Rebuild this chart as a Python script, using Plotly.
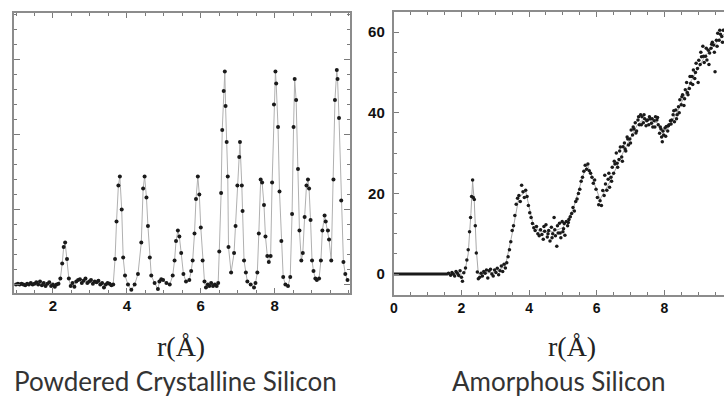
import plotly.graph_objects as go

# ---------------- Powdered crystalline silicon (left) ----------------
r_cryst = [1.00, 1.05, 1.10, 1.15, 1.20, 1.25, 1.30, 1.35, 1.40, 1.45,
           1.50, 1.55, 1.60, 1.65, 1.70, 1.75, 1.80, 1.85, 1.90, 1.95,
           2.00, 2.05, 2.10, 2.15, 2.20, 2.25, 2.29, 2.33, 2.38, 2.43,
           2.48, 2.53, 2.58, 2.63, 2.68, 2.73, 2.78, 2.83, 2.88, 2.93,
           2.98, 3.03, 3.08, 3.13, 3.18, 3.23, 3.28, 3.33, 3.38, 3.43,
           3.48, 3.53, 3.58, 3.63, 3.68, 3.72, 3.77, 3.81, 3.86, 3.90,
           3.95, 4.03, 4.12, 4.21, 4.30, 4.39, 4.44, 4.48, 4.53, 4.57,
           4.62, 4.66, 4.75, 4.84, 4.88, 4.93, 4.98, 5.07, 5.16, 5.24,
           5.29, 5.33, 5.38, 5.42, 5.47, 5.53, 5.60, 5.69, 5.74, 5.78,
           5.83, 5.87, 5.92, 5.96, 6.00, 6.05, 6.10, 6.14, 6.19, 6.23,
           6.28, 6.33, 6.38, 6.43, 6.47, 6.50, 6.55, 6.58, 6.62, 6.65,
           6.67, 6.70, 6.73, 6.75, 6.82, 6.90, 6.94, 6.99, 7.04, 7.06,
           7.11, 7.13, 7.17, 7.22, 7.26, 7.35, 7.44, 7.48, 7.53, 7.57,
           7.62, 7.66, 7.71, 7.75, 7.80, 7.84, 7.89, 7.93, 7.98, 8.02,
           8.04, 8.09, 8.13, 8.18, 8.23, 8.29, 8.36, 8.42, 8.47, 8.51,
           8.54, 8.58, 8.63, 8.67, 8.72, 8.76, 8.81, 8.86, 8.90, 8.93,
           8.97, 9.01, 9.05, 9.10, 9.14, 9.20, 9.25, 9.29, 9.35, 9.38,
           9.44, 9.47, 9.53, 9.59, 9.63, 9.68, 9.70, 9.74, 9.80, 9.86,
           9.91, 9.97]
g_cryst = [0.00, 0.05, 0.00, 0.05, 0.00, -0.05, 0.05, 0.00, 0.10, 0.00,
           0.05, 0.15, 0.00, 0.20, -0.05, 0.10, -0.10, 0.05, 0.15, -0.10,
           0.00, -0.15, 0.00, 0.05, 0.40, 1.40, 2.50, 2.80, 1.70, 0.40,
           -0.10, 0.10, -0.15, 0.20, 0.30, 0.35, 0.10, 0.25, 0.40, 0.10,
           0.20, 0.30, 0.05, 0.20, 0.15, 0.25, 0.00, 0.10, -0.20, 0.00,
           0.10, 0.05, -0.05, 0.00, 1.70, 4.20, 6.60, 7.20, 5.00, 1.80,
           0.60, 0.00, -0.35, 0.00, 0.70, 2.80, 6.40, 7.20, 5.80, 3.90,
           1.80, 0.60, 0.10, -0.30, 0.20, 0.35, 0.30, 0.10, 0.00, 0.60,
           1.60, 2.90, 3.60, 3.20, 2.10, 0.70, 0.20, 0.30, 0.90, 1.60,
           3.40, 5.70, 7.20, 6.00, 3.80, 1.60, 0.20, -0.20, 0.00, -0.10,
           0.10, -0.10, 0.00, -0.10, 0.10, 2.20, 6.10, 10.30, 12.90, 14.20,
           11.90, 9.50, 7.20, 2.50, 0.80, 2.10, 3.90, 6.60, 8.50, 9.50,
           6.60, 4.90, 1.60, 0.80, 0.20, 0.00, -0.20, 0.10, 0.80, 3.40,
           7.00, 6.80, 5.30, 3.20, 1.90, 1.50, 1.90, 6.80, 12.00, 14.20,
           13.40, 10.50, 6.20, 2.90, 0.50, 0.00, -0.10, 0.50, 4.70, 10.50,
           13.70, 12.30, 7.70, 3.60, 1.60, 2.10, 4.50, 6.60, 7.00, 6.40,
           4.30, 1.60, 0.90, 0.40, 0.30, 0.40, 1.60, 3.60, 4.60, 4.20,
           3.60, 3.00, 1.60, 7.00, 12.30, 14.30, 13.70, 11.10, 5.60, 1.50,
           0.70, 0.30]

# ---------------- Amorphous silicon (right) ----------------
r_amor_base = [0.0, 1.60]
g_amor_base = [0.0, 0.0]

r_amor = [1.62, 1.68, 1.72, 1.76, 1.80, 1.84, 1.88, 1.92, 1.96, 2.00,
          2.03, 2.07, 2.12, 2.16, 2.20, 2.24, 2.27, 2.30, 2.33, 2.35,
          2.38, 2.41, 2.44, 2.47, 2.50, 2.54, 2.58, 2.62, 2.66, 2.70,
          2.74, 2.78, 2.82, 2.86, 2.90, 2.94, 2.98, 3.02, 3.06, 3.10,
          3.14, 3.18, 3.22, 3.26, 3.30, 3.34, 3.38, 3.42, 3.46, 3.50,
          3.54, 3.58, 3.62, 3.66, 3.70, 3.74, 3.78, 3.82, 3.86, 3.90,
          3.94, 3.98, 4.02, 4.06, 4.10, 4.14, 4.18, 4.22, 4.26, 4.30,
          4.34, 4.38, 4.42, 4.46, 4.50, 4.54, 4.58, 4.62, 4.66, 4.70,
          4.74, 4.78, 4.82, 4.86, 4.90, 4.94, 4.98, 5.02, 5.06, 5.10,
          5.14, 5.18, 5.22, 5.26, 5.30, 5.34, 5.38, 5.42, 5.46, 5.50,
          5.54, 5.58, 5.62, 5.66, 5.70, 5.74, 5.78, 5.82, 5.86, 5.90,
          5.94, 5.98, 6.02, 6.06, 6.10, 6.14, 6.18, 6.22, 6.26, 6.30,
          6.34, 6.38, 6.42, 6.46, 6.50, 6.54, 6.58, 6.62, 6.66, 6.70,
          6.74, 6.78, 6.82, 6.86, 6.90, 6.94, 6.98, 7.02, 7.06, 7.10,
          7.14, 7.18, 7.22, 7.26, 7.30, 7.34, 7.38, 7.42, 7.46, 7.50,
          7.54, 7.58, 7.62, 7.66, 7.70, 7.74, 7.78, 7.82, 7.86, 7.90,
          7.94, 7.98, 8.02, 8.06, 8.10, 8.14, 8.18, 8.22, 8.26, 8.30,
          8.34, 8.38, 8.42, 8.46, 8.50, 8.54, 8.58, 8.62, 8.66, 8.70,
          8.74, 8.78, 8.82, 8.86, 8.90, 8.94, 8.98, 9.02, 9.06, 9.10,
          9.14, 9.18, 9.22, 9.26, 9.30, 9.34, 9.38, 9.42, 9.46, 9.50,
          9.54, 9.58, 9.62, 9.66, 9.70, 9.74,
          6.24, 6.36, 6.44, 6.52, 6.60, 6.68, 6.76, 6.84, 6.92, 7.00,
          7.08, 7.16, 7.24, 7.32, 7.40, 7.48, 7.56, 7.64, 7.72, 7.80,
          7.88, 7.92, 7.96, 8.04, 8.12, 8.20, 8.28, 8.36, 8.44, 8.52,
          8.60, 8.68, 8.76, 8.84, 8.92, 9.00, 9.08, 9.16, 9.24, 9.32,
          9.40, 9.48, 9.56, 9.64, 9.72, 4.44, 4.56, 4.68, 4.76, 4.84,
          4.92, 5.00, 5.04, 5.16]
g_amor = [0.2, -0.3, 0.4, 0.0, -0.5, 0.6, 0.2, -0.4, 0.8, -0.8,
          -1.8, 0.3, 1.5, 3.5, 6.0, 10.5, 14.0, 19.2, 23.3, 19.0,
          18.5, 12.0, 5.2, 0.5, -1.2, -0.8, 0.2, -0.5, 0.6, 0.2,
          1.0, -1.0, 0.8, 1.2, 0.0, -0.5, 1.0, 0.4, 1.4, -0.2,
          0.8, 2.0, 0.6, 2.4, 1.5, 2.8, 4.3, 6.0, 8.0, 10.8,
          12.0, 14.5, 17.3, 18.8, 19.5, 18.0, 22.0, 20.4, 19.0, 20.8,
          19.2, 17.0, 15.2, 14.0, 12.5, 11.5, 10.8, 11.8, 10.0, 9.5,
          11.0, 9.8, 8.6, 10.6, 12.2, 9.2, 10.8, 8.2, 11.6, 10.0,
          14.0, 9.5, 6.9, 10.2, 12.6, 9.0, 13.0, 11.2, 9.6, 13.0,
          12.0, 13.5, 14.2, 15.0, 16.5, 15.6, 18.0, 18.6, 20.0, 21.0,
          23.0, 24.0, 25.5, 27.0, 26.0, 27.3, 25.6, 25.0, 24.0, 22.5,
          23.3, 21.0, 19.0, 17.2, 18.2, 17.0, 20.7, 19.5, 22.3, 20.8,
          23.5, 21.5, 24.0, 26.5, 25.0, 27.3, 30.0, 26.5, 28.4, 31.5,
          29.0, 31.6, 32.5, 30.5, 34.0, 32.0, 33.5, 35.7, 34.5, 36.0,
          37.5, 35.5, 38.2, 37.0, 39.5, 39.0, 37.5, 38.5, 36.8, 38.2,
          37.0, 38.5, 37.4, 36.5, 38.0, 39.0, 38.2, 37.0, 34.9, 36.0,
          32.8, 34.5, 36.2, 36.6, 35.5, 37.0, 38.0, 38.2, 39.5, 37.8,
          40.7, 39.5, 41.5, 43.2, 42.0, 44.5, 41.8, 45.7, 47.5, 44.5,
          46.0, 47.3, 49.0, 50.6, 48.5, 52.3, 51.0, 53.0, 52.0, 53.9,
          56.5, 52.5, 54.0, 53.1, 55.5, 54.8, 56.0, 57.5, 56.8, 50.2,
          58.0, 59.7, 58.0, 59.5, 58.9, 60.5,
          24.5, 25.0, 23.0, 28.0, 27.5, 30.5, 28.0, 31.0, 33.5, 32.5,
          36.5, 35.0, 39.0, 37.0, 39.5, 38.0, 39.0, 38.5, 36.5, 38.8,
          36.5, 34.0, 35.5, 34.2, 36.8, 37.2, 40.5, 38.5, 40.0, 44.0,
          43.5, 45.0, 49.0, 47.0, 50.0, 47.5, 55.0, 54.0, 56.0, 52.0,
          57.0, 55.0, 56.5, 60.5, 57.5, 11.8, 10.0, 9.0, 11.0, 12.0,
          10.2, 10.5, 12.5, 12.8]

# smooth guide line through the amorphous data
r_amor_fit = [0.0, 1.6, 2.0, 2.1, 2.2, 2.28, 2.33, 2.38, 2.44, 2.5,
              3.0, 3.3, 3.5, 3.7, 3.9, 4.1, 4.3, 4.7, 5.0, 5.3,
              5.6, 5.73, 5.9, 6.1, 6.4, 6.8, 7.2, 7.4, 7.8, 7.95,
              8.1, 8.4, 8.8, 9.2, 9.5, 9.76]
g_amor_fit = [0.0, 0.0, 0.0, 0.5, 5.0, 15.0, 23.0, 18.0, 6.0, 0.0,
              0.5, 2.0, 10.0, 19.0, 20.5, 13.0, 10.5, 10.5, 11.5, 16.0,
              24.5, 27.0, 23.0, 18.5, 23.0, 30.5, 37.0, 38.5, 37.5, 35.0,
              36.0, 40.5, 48.0, 54.0, 57.0, 59.5]

left_xticks = [2, 4, 6, 8]
right_xticks = [0, 2, 4, 6, 8]
right_yticks = [0, 20, 40, 60]

FRAME = "#8c8c8c"
TICKC = "#7a7a7a"

fig = go.Figure()

fig.add_trace(go.Scatter(
    x=r_cryst, y=g_cryst, mode="lines+markers",
    line=dict(color="#b0b0b0", width=1),
    marker=dict(color="#1a1a1a", size=4),
    xaxis="x", yaxis="y", showlegend=False, hoverinfo="skip"))

fig.add_trace(go.Scatter(
    x=r_amor_fit, y=g_amor_fit, mode="lines",
    line=dict(color="#a8a8a8", width=1),
    xaxis="x2", yaxis="y2", showlegend=False, hoverinfo="skip"))
fig.add_trace(go.Scatter(
    x=r_amor_base, y=g_amor_base, mode="lines",
    line=dict(color="#1a1a1a", width=3),
    xaxis="x2", yaxis="y2", showlegend=False, hoverinfo="skip"))
fig.add_trace(go.Scatter(
    x=r_amor, y=g_amor, mode="markers",
    marker=dict(color="#1a1a1a", size=3.5),
    xaxis="x2", yaxis="y2", showlegend=False, hoverinfo="skip"))

tickfont = dict(family="Arial", size=15, color="#111", weight="bold")

common_axis = dict(showgrid=False, zeroline=False, showline=True,
                   linecolor=FRAME, linewidth=2, ticks="inside",
                   tickcolor=TICKC, tickwidth=1)

fig.update_layout(
    width=724, height=400,
    margin=dict(l=0, r=0, t=0, b=0),
    paper_bgcolor="white", plot_bgcolor="white",
    xaxis=dict(domain=[0.0138, 0.481], range=[0.944, 10.046],
               tickmode="array", tickvals=left_xticks,
               ticklen=5, mirror="allticks", anchor="y",
               tickfont=tickfont, ticklabelstandoff=-2,
               minor=dict(dtick=0.5, tick0=0, ticks="inside", ticklen=3,
                          tickcolor=TICKC),
               **common_axis),
    yaxis=dict(domain=[0.268, 0.9675], range=[-0.547, 18.1],
               tick0=0, dtick=5, ticklen=6, showticklabels=False,
               mirror="allticks", anchor="x",
               minor=dict(dtick=1, tick0=0, ticks="inside", ticklen=3,
                          tickcolor=TICKC),
               **common_axis),
    xaxis2=dict(domain=[0.5414, 1.0], range=[0, 9.765],
                tickmode="array", tickvals=right_xticks,
                ticklen=5, mirror="allticks", anchor="y2",
                tickfont=dict(family="Arial", size=14, color="#111", weight="bold"),
                ticklabelstandoff=-1,
                minor=dict(dtick=0.5, tick0=0, ticks="inside", ticklen=3,
                           tickcolor=TICKC),
                **common_axis),
    yaxis2=dict(domain=[0.2625, 0.97], range=[-5.21, 65.0],
                tickmode="array", tickvals=right_yticks,
                ticklen=5, mirror=False, anchor="x2",
                tickfont=dict(family="Arial", size=15, color="#111", weight="bold"),
                ticklabelstandoff=4,
                minor=dict(dtick=5, tick0=0, ticks="inside", ticklen=3,
                           tickcolor=TICKC),
                **common_axis),
)

serif = dict(family="Liberation Serif, Times New Roman, serif", size=28, color="#222")
capfont = dict(family="Lato, Open Sans, sans-serif", size=26, color="#333")

fig.add_annotation(text="r(Å)", x=177.5 / 724, y=1 - 346 / 400, xref="paper", yref="paper",
                   showarrow=False, font=serif, xanchor="center", yanchor="middle")
fig.add_annotation(text="r(Å)", x=571 / 724, y=1 - 346 / 400, xref="paper", yref="paper",
                   showarrow=False, font=serif, xanchor="center", yanchor="middle")
fig.add_annotation(text="Powdered Crystalline Silicon", x=172.5 / 724, y=1 - 381 / 400,
                   xref="paper", yref="paper", showarrow=False, font=capfont,
                   xanchor="center", yanchor="middle")
fig.add_annotation(text="Amorphous Silicon", x=558 / 724, y=1 - 381 / 400,
                   xref="paper", yref="paper", showarrow=False, font=capfont,
                   xanchor="center", yanchor="middle")

fig.write_html("out.html",
               config={"displayModeBar": False},
               post_script="document.body.style.margin='0';"
                           "document.body.style.overflow='hidden';")
